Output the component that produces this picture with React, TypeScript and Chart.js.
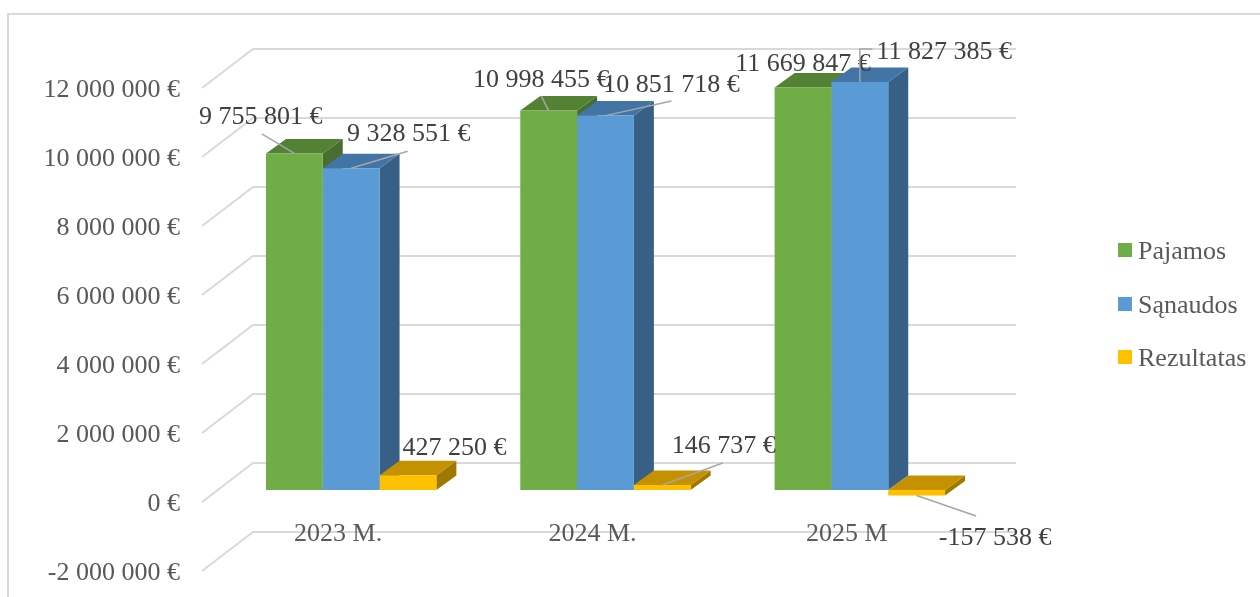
import React, { useEffect, useRef } from 'react';
import { Chart, registerables } from 'chart.js';

Chart.register(...registerables);

// ---- data ----
const categories = ['2023 M.', '2024 M.', '2025 M'];
const seriesNames = ['Pajamos', 'Sąnaudos', 'Rezultatas'];
const pajamos = [9755801, 10998455, 11669847];
const sanaudos = [9328551, 10851718, 11827385];
const rezultatas = [427250, 146737, -157538];
const yMin = -2000000;
const yMax = 12000000;
const yStep = 2000000;

// ---- styles ----
const FRONT = ['#70AD47', '#5B9BD5', '#FFC000'];
const TOP = ['#548235', '#4274A6', '#C49200'];
const SIDE = ['#476E2D', '#386087', '#A07800'];
const DEPTH_X = 20;
const DEPTH_Y = 14.5;
const FONT = '"Liberation Serif", "Times New Roman", serif';
const GRID = '#D9D9D9';
const TEXT_NUDGE = 2;

const fmt = (v: number) =>
  (v < 0 ? '-' : '') +
  String(Math.abs(Math.round(v))).replace(/\B(?=(\d{3})+(?!\d))/g, ' ') +
  ' €';

// data label placement: text centre offset from bar anchor, leader end relative to text centre
type LabelPos = { dx: number; dy: number; lead: number[] | null; elbow?: boolean };
const labelLayout: LabelPos[][] = [
  [
    { dx: -33.5, dy: -38.5, lead: [1, 19] },
    { dx: -7.5, dy: -32.6, lead: [0, 18] },
    { dx: 0, dy: -25, lead: null },
  ],
  [
    { dx: 57.5, dy: -36, lead: [-1, 19] },
    { dx: 66, dy: -32.6, lead: [0, 18] },
    { dx: 84.5, dy: -32, lead: [-72, -1], elbow: true },
  ],
  [
    { dx: 46.5, dy: -29, lead: null },
    { dx: 61.5, dy: -41, lead: [-1, 19] },
    { dx: 78.5, dy: 40.6, lead: [-19, -20] },
  ],
];

const fake3d = {
  id: 'fake3d',
  beforeDraw(chart: any) {
    const ctx = chart.ctx;
    ctx.save();
    ctx.strokeStyle = GRID;
    ctx.lineWidth = 2;
    ctx.beginPath();
    ctx.moveTo(8, chart.height + 5);
    ctx.lineTo(8, 14);
    ctx.lineTo(chart.width + 5, 14);
    ctx.stroke();
    ctx.restore();
  },
  beforeDatasetsDraw(chart: any) {
    const ctx = chart.ctx;
    const ys = chart.scales.y;
    const area = chart.chartArea;
    ctx.save();
    // walls gridlines
    ctx.strokeStyle = GRID;
    ctx.lineWidth = 2;
    for (let v = yMin; v <= yMax; v += yStep) {
      const p = ys.getPixelForValue(v);
      ctx.beginPath();
      ctx.moveTo(area.left - 22, p + 12);
      ctx.lineTo(area.left + 29, p - 27);
      ctx.lineTo(area.right + 29, p - 27);
      ctx.stroke();
    }
    // side and top faces
    const metas = chart.data.datasets.map((_: any, d: number) => chart.getDatasetMeta(d));
    for (let i = 0; i < categories.length; i++) {
      for (let d = 0; d < metas.length; d++) {
        const el = metas[d].data[i];
        const { x, y, base, width } = el.getProps(['x', 'y', 'base', 'width'], true);
        const l = x - width / 2;
        const r = x + width / 2;
        const t = Math.min(y, base);
        const b = Math.max(y, base);
        ctx.fillStyle = SIDE[d];
        ctx.beginPath();
        ctx.moveTo(r, t);
        ctx.lineTo(r + DEPTH_X, t - DEPTH_Y);
        ctx.lineTo(r + DEPTH_X, b - DEPTH_Y);
        ctx.lineTo(r, b);
        ctx.closePath();
        ctx.fill();
        ctx.fillStyle = TOP[d];
        ctx.beginPath();
        ctx.moveTo(l, t);
        ctx.lineTo(r, t);
        ctx.lineTo(r + DEPTH_X, t - DEPTH_Y);
        ctx.lineTo(l + DEPTH_X, t - DEPTH_Y);
        ctx.closePath();
        ctx.fill();
      }
    }
    ctx.restore();
  },
  afterDatasetsDraw(chart: any) {
    const ctx = chart.ctx;
    const xs = chart.scales.x;
    const ys = chart.scales.y;
    ctx.save();
    ctx.font = `26px ${FONT}`;
    ctx.textBaseline = 'middle';
    // category labels
    ctx.fillStyle = '#595959';
    ctx.textAlign = 'center';
    categories.forEach((c, i) => {
      ctx.fillText(c, xs.getPixelForValue(i) - 13, ys.getPixelForValue(0) + 42 + TEXT_NUDGE);
    });
    // data labels
    chart.data.datasets.forEach((ds: any, d: number) => {
      const meta = chart.getDatasetMeta(d);
      ds.data.forEach((v: number, i: number) => {
        const el = meta.data[i];
        const { x, y } = el.getProps(['x', 'y'], true);
        const pos = labelLayout[d][i];
        const tx = x + pos.dx;
        const ty = y + pos.dy;
        if (pos.lead) {
          const ex = tx + pos.lead[0];
          const ey = ty + pos.lead[1];
          ctx.strokeStyle = '#A6A6A6';
          ctx.lineWidth = 1.5;
          ctx.beginPath();
          ctx.moveTo(x, y);
          if (pos.elbow) ctx.lineTo(x, ey);
          ctx.lineTo(ex, ey);
          ctx.stroke();
        }
        ctx.fillStyle = '#404040';
        ctx.textAlign = 'center';
        ctx.fillText(fmt(v), tx, ty + TEXT_NUDGE);
      });
    });
    // legend
    ctx.textAlign = 'left';
    const legendY = [250, 304, 357];
    seriesNames.forEach((n, d) => {
      ctx.fillStyle = FRONT[d];
      ctx.fillRect(1118, legendY[d] - 7, 14, 14);
      ctx.fillStyle = '#595959';
      ctx.fillText(n, 1138, legendY[d] + TEXT_NUDGE);
    });
    ctx.restore();
  },
};

export default function App() {
  const ref = useRef<HTMLCanvasElement>(null);
  useEffect(() => {
    if (!ref.current) return;
    const chart = new Chart(ref.current, {
      type: 'bar',
      data: {
        labels: categories,
        datasets: [
          { label: seriesNames[0], data: pajamos, backgroundColor: FRONT[0] },
          { label: seriesNames[1], data: sanaudos, backgroundColor: FRONT[1] },
          { label: seriesNames[2], data: rezultatas, backgroundColor: FRONT[2] },
        ],
      },
      options: {
        responsive: false,
        animation: false,
        devicePixelRatio: 1,
        layout: { padding: { left: 0, top: 76, right: 273, bottom: 38 } },
        datasets: { bar: { categoryPercentage: 0.67, barPercentage: 1, borderWidth: 0 } },
        plugins: { legend: { display: false }, tooltip: { enabled: false } },
        scales: {
          x: { display: false },
          y: {
            min: yMin,
            max: yMax,
            grid: { display: false, drawTicks: false },
            border: { display: false },
            ticks: {
              stepSize: yStep,
              callback: (v: any) => fmt(Number(v)),
              font: { family: FONT, size: 26 },
              color: '#595959',
              padding: 44,
              labelOffset: 12 + TEXT_NUDGE,
            },
            afterFit: (s: any) => {
              s.width = 224;
              s.paddingTop = 0;
              s.paddingBottom = 0;
            },
          },
        },
      },
      plugins: [fake3d],
    } as any);
    return () => chart.destroy();
  }, []);
  return (
    <div style={{ position: 'fixed', left: 0, top: 0, width: 1260, height: 597, background: '#fff' }}>
      <canvas ref={ref} width={1260} height={597} style={{ display: 'block' }} />
    </div>
  );
}
